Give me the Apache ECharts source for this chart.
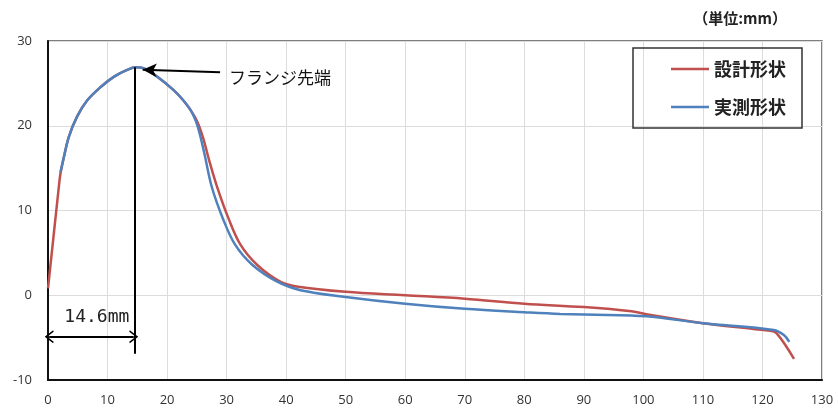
<!DOCTYPE html>
<html>
<head>
<meta charset="utf-8">
<script src="https://cdn.jsdelivr.net/npm/echarts@6/dist/echarts.min.js"></script>
<style>
  html, body { margin: 0; padding: 0; background: #fff; }
  #chart { width: 838px; height: 417px; }
</style>
</head>
<body>
<div id="chart"></div>
<script>
// flange shape profile, design vs measured (units: mm)
var seriesNames = ["設計形状", "実測形状"];
var unitLabel = "（単位:mm）";
var tipLabel = "フランジ先端";
var widthLabel = "14.6mm";
var flangeTipX = 14.6;

var designPts = [
  [0, 0.8], [1.85, 13.0], [2.1, 14.4], [2.7, 16.4], [3.5, 18.7], [4.9, 21.1],
  [6.6, 23.0], [8.9, 24.6], [11.1, 25.8], [13.3, 26.6], [14.8, 26.9],
  [16, 26.8], [18.3, 25.8], [21.1, 24.2], [22.6, 23.1], [23.9, 21.9], [25, 20.6],
  [26, 18.7], [27, 16.1], [28.4, 12.8], [30.3, 9.1], [32.3, 6.0], [35.1, 3.6],
  [39, 1.6], [42, 1.0], [50, 0.4], [60, 0.0], [70, -0.4], [80, -1.0],
  [90, -1.4], [98, -1.9], [101, -2.3], [110, -3.3], [121.3, -4.2],
  [122.4, -4.5], [125.3, -7.5]
];

var measuredPts = [
  [2.1, 14.5], [2.7, 16.4], [3.5, 18.7], [4.9, 21.1], [6.6, 23.0],
  [8.9, 24.6], [11.1, 25.8], [13.3, 26.6], [14.8, 26.9], [16, 26.8],
  [18.3, 25.8], [21.1, 24.2], [22.6, 23.1], [23.9, 21.9], [24.8, 20.6], [25.5, 19.0],
  [26.3, 16.6], [27.5, 12.8], [29.4, 9.0], [31.4, 6.0], [34.3, 3.6], [38.5, 1.6],
  [42.4, 0.6], [50, -0.2], [60, -1.0], [70, -1.6], [80, -2.0], [86, -2.2],
  [98, -2.4], [101, -2.5], [110, -3.3], [121.9, -4.1], [123.6, -4.7],
  [124.5, -5.5]
];

var xTicks = { min: 0, max: 130, step: 10 };
var yTicks = { min: -10, max: 30, step: 10 };

var chart = echarts.init(document.getElementById("chart"), null, { renderer: "canvas" });

var jp = "'Noto Sans CJK JP', 'Noto Sans', sans-serif";
// open chevron head for the dimension arrow
var chevron = "path://M0,12 L6,0 L12,12 L10.6,12.8 L6,3.6 L1.4,12.8 Z";

chart.setOption({
  backgroundColor: "#fff",
  animation: false,
  title: {
    text: unitLabel,
    right: 46,
    top: 6,
    textStyle: { fontFamily: jp, fontSize: 15, fontWeight: "bold", color: "#222" }
  },
  legend: {
    data: seriesNames,
    orient: "vertical",
    icon: "rect",
    right: 36,
    top: 48,
    itemWidth: 38,
    itemHeight: 2.5,
    itemGap: 14,
    padding: [9, 16, 9, 38],
    borderColor: "#333",
    borderWidth: 1.5,
    textStyle: { fontFamily: jp, fontSize: 18, fontWeight: "bold", color: "#222", lineHeight: 24 }
  },
  grid: { left: 48, right: 16, top: 41, bottom: 37, show: true, borderColor: "#555", borderWidth: 1.5 },
  xAxis: {
    type: "value",
    min: xTicks.min, max: xTicks.max, interval: xTicks.step,
    axisLine: { onZero: false, lineStyle: { color: "#111", width: 2 } },
    axisTick: { show: false },
    axisLabel: { fontFamily: "'Open Sans', sans-serif", fontSize: 13, color: "#333", margin: 14 },
    splitLine: { lineStyle: { color: "#dcdcdc", width: 1 } }
  },
  yAxis: {
    type: "value",
    min: yTicks.min, max: yTicks.max, interval: yTicks.step,
    axisLine: { show: true, onZero: false, lineStyle: { color: "#111", width: 2 } },
    axisTick: { show: false },
    axisLabel: { fontFamily: "'Open Sans', sans-serif", fontSize: 13, color: "#333", margin: 16 },
    splitLine: { lineStyle: { color: "#dcdcdc", width: 1 } }
  },
  series: [
    {
      name: seriesNames[0],
      type: "line",
      data: designPts,
      smooth: 0.35,
      symbol: "none",
      lineStyle: { color: "#c0504d", width: 2.5 },
      itemStyle: { color: "#c0504d" },
      z: 2
    },
    {
      name: seriesNames[1],
      type: "line",
      data: measuredPts,
      smooth: 0.35,
      symbol: "none",
      lineStyle: { color: "#4f81bd", width: 2.5 },
      itemStyle: { color: "#4f81bd" },
      z: 3,
      markLine: {
        silent: true,
        animation: false,
        label: { show: false },
        data: [
          // vertical line from the flange tip
          [
            { coord: [flangeTipX, 26.9], symbol: "none", lineStyle: { color: "#000", width: 2, type: "solid" } },
            { coord: [flangeTipX, -6.9], symbol: "none" }
          ],
          // dimension arrow 0 .. 14.6
          [
            { coord: [0.2, -4.9], symbol: chevron, symbolSize: [13, 9], lineStyle: { color: "#000", width: 2, type: "solid" } },
            { coord: [flangeTipX - 0.2, -4.9], symbol: chevron, symbolSize: [13, 9] }
          ],
          // pointer arrow to the tip
          [
            { coord: [28.9, 26.3], symbol: "none", lineStyle: { color: "#000", width: 2, type: "solid" } },
            { coord: [15.9, 26.6], symbol: "arrow", symbolSize: [10, 14] }
          ]
        ]
      },
      markPoint: {
        silent: true,
        animation: false,
        symbol: "circle",
        symbolSize: 0,
        data: [
          {
            coord: [30.4, 25.7],
            label: { show: true, position: "right", distance: 0, formatter: tipLabel,
              fontFamily: jp, fontSize: 17, color: "#111" }
          },
          {
            coord: [8.2, -2.6],
            label: { show: true, position: "inside", formatter: widthLabel,
              fontFamily: "'DejaVu Sans Mono', monospace", fontSize: 18, color: "#222" }
          }
        ]
      }
    }
  ]
});

window.addEventListener("resize", function () { chart.resize(); });
</script>
</body>
</html>
